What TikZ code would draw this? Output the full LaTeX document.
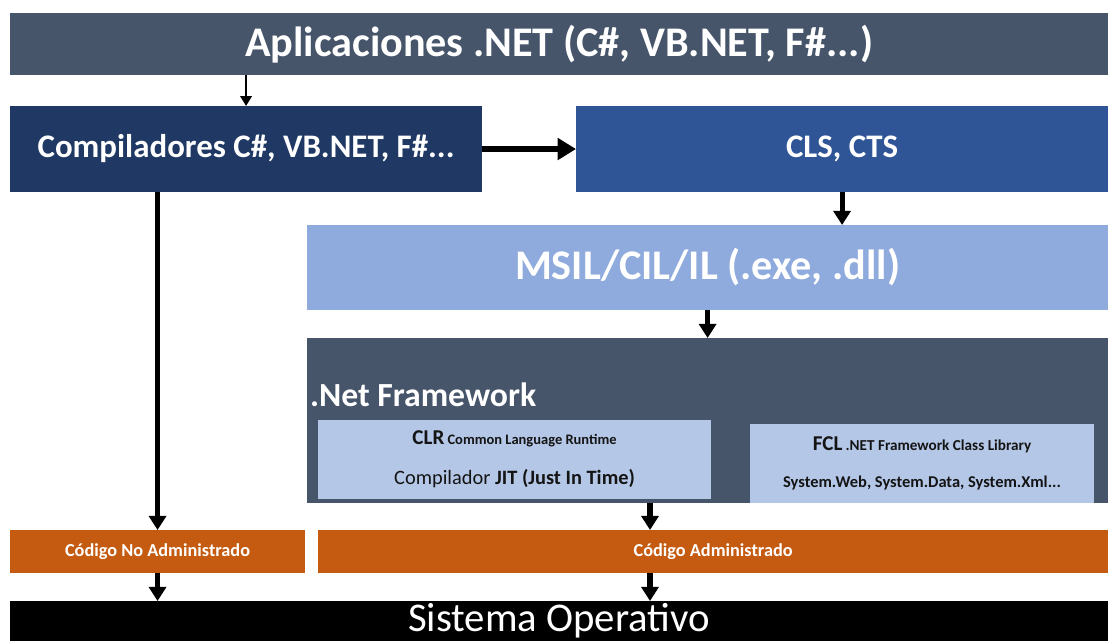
\documentclass[tikz,border=0pt]{standalone}
\usepackage{fontspec}
\setmainfont{Carlito}
\usetikzlibrary{arrows.meta}
\definecolor{appgray}{RGB}{71, 85, 106}
\definecolor{navy}{RGB}{31, 56, 100}
\definecolor{midblue}{RGB}{47, 85, 151}
\definecolor{lightblue}{RGB}{143, 170, 220}
\definecolor{paleblue}{RGB}{180, 199, 231}
\definecolor{rust}{RGB}{197, 90, 17}
\definecolor{inktext}{RGB}{20, 20, 20}

\begin{document}
\begin{tikzpicture}
        [x=0.025cm, y=-0.025cm,
        box/.style = {anchor=north west, inner sep=0pt, outer sep=0pt, text=white, font=\bfseries},
        inner/.style = {box, fill=paleblue, text=inktext, align=center, font=\normalfont},
        thin/.style = {line width=2pt, -{Triangle[length=7pt, width=8pt]}},
        flow/.style = {line width=3.6pt, -{Triangle[length=10pt, width=12pt]}},
        wide/.style = {line width=4.2pt, -{Triangle[length=13pt, width=15pt]}}]
        \useasboundingbox (0,0) rectangle (1108,641);

        \node[box, fill=appgray, minimum width=27.45cm, minimum height=1.55cm, font=\fontsize{30}{36}\bfseries] (apps) at (10,13) {Aplicaciones .NET (C\#, VB.NET, F\#...)};
        \node[box, fill=navy, minimum width=11.8cm, minimum height=2.15cm, font=\fontsize{23.4}{28}\bfseries] (comp) at (10,106) {Compiladores C\#, VB.NET, F\#...};
        \node[box, fill=midblue, minimum width=13.3cm, minimum height=2.15cm, font=\fontsize{23.4}{28}\bfseries] (cls) at (576,106) {CLS, CTS};
        \node[box, fill=lightblue, minimum width=20.025cm, minimum height=2.125cm, font=\fontsize{30}{36}\bfseries] (msil) at (307,225) {MSIL/CIL/IL (.exe, .dll)};

        \node[box, fill=appgray, minimum width=20.025cm, minimum height=4.125cm] (net) at (307,338) {};
        \node[box, anchor=west, font=\fontsize{24}{29}\bfseries] (netlbl) at (310,395) {.Net Framework};
        \node[inner, minimum width=9.825cm, minimum height=1.975cm] (clr) at (318,420)
            {{\fontsize{15}{18}\bfseries CLR} {\fontsize{10.3}{12}\bfseries Common Language Runtime}\\[15pt]
             {\fontsize{14.5}{17}\selectfont Compilador \bfseries JIT (Just In Time)}};
        \node[inner, minimum width=8.6cm, minimum height=1.975cm] (fcl) at (750,424)
            {{\fontsize{15}{18}\bfseries FCL} {\fontsize{10.8}{13}\bfseries .NET Framework Class Library}\\[14pt]
             {\fontsize{11.7}{14}\bfseries System.Web, System.Data, System.Xml...}};

        \node[box, fill=rust, minimum width=7.375cm, minimum height=1.075cm, font=\fontsize{13}{16}\bfseries] (noadm) at (10,530) {Código No Administrado};
        \node[box, fill=rust, minimum width=19.75cm, minimum height=1.075cm, font=\fontsize{13}{16}\bfseries] (adm) at (318,530) {Código Administrado};
        \node[box, fill=black, minimum width=27.45cm, minimum height=1.0cm, font=\fontsize{29}{34}\selectfont] (so) at (10,601) {Sistema Operativo};

        \coordinate (j) at (650,0);

        \draw[thin] (apps.south -| comp.north) -- (comp.north);
        \draw[wide] (comp.east) -- (cls.west);
        \draw[flow] (cls.south) -- (cls.south |- msil.north);
        \draw[flow] (msil.south) -- (msil.south |- net.north);
        \draw[flow] (comp.south -| noadm.north) -- (noadm.north);
        \draw[flow] (net.south -| j) -- (adm.north -| j);
        \draw[flow] (noadm.south) -- (noadm.south |- so.north);
        \draw[flow] (adm.south -| j) -- (so.north -| j);

\end{tikzpicture}
\end{document}
